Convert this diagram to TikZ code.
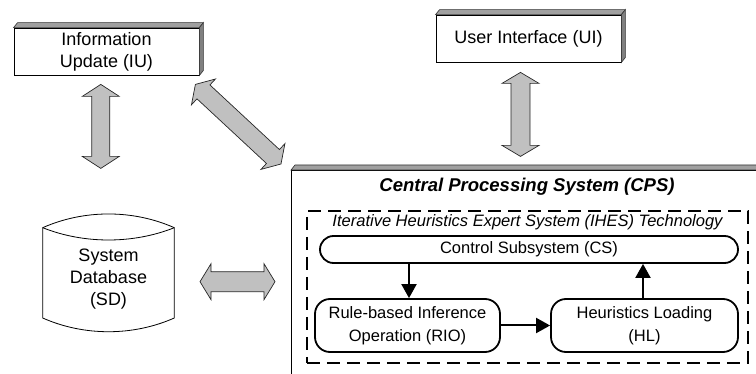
\documentclass[tikz,border=0pt]{standalone}
\usepackage{fontspec}
\setmainfont{Liberation Sans}
\usetikzlibrary{calc,arrows.meta}

\definecolor{arrowfill}{HTML}{C0C0C0}
\definecolor{bevtop}{HTML}{A0A0A0}
\definecolor{bevside}{HTML}{808080}

\tikzset{
  box3d/.style={draw, fill=white, line width=0.8pt, minimum width=185pt, minimum height=47pt,
    align=center, inner sep=0pt, font=\fontsize{18}{22}\selectfont},
  rbox/.style={draw, line width=1.8pt, rounded corners=15pt, align=center, inner sep=0pt,
    font=\fontsize{16.5}{23}\selectfont},
  flow/.style={line width=2pt, -{Triangle[length=14pt,width=15pt]}},
  blockarr/.style={fill=arrowfill, draw=black!85, line width=0.7pt, line join=miter},
  bevelline/.style={draw=black!80, line width=0.6pt, line join=miter},
}

% #1 A, #2 B, #3 head length, #4 head half width, #5 shaft half width
\newcommand\blockarrow[5]{%
  \coordinate (ba1) at ($(#1)!#3!(#2)$);
  \coordinate (ba2) at ($(#2)!#3!(#1)$);
  \draw[blockarr] (#1) -- ($(ba1)!#4!90:(#2)$) -- ($(ba1)!#5!90:(#2)$)
    -- ($(ba2)!#5!-90:(#1)$) -- ($(ba2)!#4!-90:(#1)$) -- (#2)
    -- ($(ba2)!#4!90:(#1)$) -- ($(ba2)!#5!90:(#1)$)
    -- ($(ba1)!#5!-90:(#2)$) -- ($(ba1)!#4!-90:(#2)$) -- cycle;}

\newcommand\bevelbox[1]{%
  \fill[bevtop, bevelline] (#1.north west) -- ++(4,-5) -- ($(#1.north east)+(4,-5)$)
    -- (#1.north east) -- cycle;
  \fill[bevside, bevelline] (#1.north east) -- ++(4,-5) -- ($(#1.south east)+(4,-5)$)
    -- (#1.south east) -- cycle;}

\begin{document}
\begin{tikzpicture}[x=1pt, y=-1pt]
\path[use as bounding box] (0,0) rectangle (756,374);
\clip (0,0) rectangle (756,374);

% Central Processing System
\node[draw, fill=white, line width=0.8pt, anchor=north west, minimum width=520pt,
  minimum height=240pt, inner sep=0pt] (cps) at (291,170) {};
\bevelbox{cps}
\node[font=\fontsize{18.5}{22}\selectfont\bfseries\itshape] (cpstitle) at (527,187)
  {Central Processing System (CPS)};

\node[draw, dash pattern=on 13pt off 7pt, line width=1.8pt, anchor=north west,
  minimum width=441pt, minimum height=152pt, inner sep=0pt] (ihes) at (306,210) {};
\node[font=\fontsize{16.5}{20}\selectfont\itshape] (ihestitle) at (527.5,222)
  {Iterative Heuristics Expert System (IHES) Technology};

\node[rbox, rounded corners=13.5pt, minimum width=418pt, minimum height=27pt] (cs)
  at (529,249.5) {Control Subsystem (CS)};
\node[rbox, minimum width=185pt, minimum height=53pt] (rio) at (407.5,325.5)
  {Rule-based Inference\\Operation (RIO)};
\node[rbox, minimum width=187pt, minimum height=53pt] (hl) at (644.5,325.5)
  {Heuristics Loading\\(HL)};

\draw[flow] ([xshift=1.5pt]rio.north |- cs.south) -- ([xshift=1.5pt]rio.north);
\draw[flow] ([xshift=-1.5pt]hl.north) -- ([xshift=-1.5pt]hl.north |- cs.south);
\draw[flow] (rio.east) -- (hl.west);

% Information Update
\node[box3d] (iu) at (106.5,51.5) {Information\\Update (IU)};
\bevelbox{iu}

% User Interface
\node[box3d] (ui) at (528.5,38.5) {User Interface (UI)};
\bevelbox{ui}

% System Database
\node[align=center, inner sep=0pt, font=\fontsize{18}{22}\selectfont] (sd) at (108.5,279)
  {System\\Database\\(SD)};
\draw[line width=0.8pt] (42.7,227.7) .. controls (84,209.4) and (133,209.4) .. (174.3,227.7)
  -- (174.3,318) .. controls (133,336.3) and (84,336.3) .. (42.7,318) -- cycle;
\draw[line width=0.8pt] (42.7,227.7) .. controls (84,244.1) and (133,244.1) .. (174.3,227.7);

% block double arrows
\coordinate (iuA) at ($(iu.south)+(-5.7,9)$);
\coordinate (sdA) at ($(iu.south)+(-5.7,93)$);
\blockarrow{iuA}{sdA}{12pt}{18.5pt}{9pt}

\coordinate (uiA) at ($(ui.south)+(-8,10)$);
\coordinate (cpsA) at ($(ui.south)+(-8,94)$);
\blockarrow{uiA}{cpsA}{11pt}{18.5pt}{9.5pt}

\coordinate (iuB) at ($(iu.south east)+(-4,9)$);
\coordinate (cpsB) at ($(cps.north west)+(-10,-6)$);
\blockarrow{iuB}{cpsB}{11pt}{17.6pt}{9.5pt}

\coordinate (sdB) at ($(sd.center)+(91.5,2.7)$);
\coordinate (cpsC) at ($(sd.center)+(166.5,2.7)$);
\blockarrow{sdB}{cpsC}{11pt}{18pt}{10pt}
\end{tikzpicture}
\end{document}
